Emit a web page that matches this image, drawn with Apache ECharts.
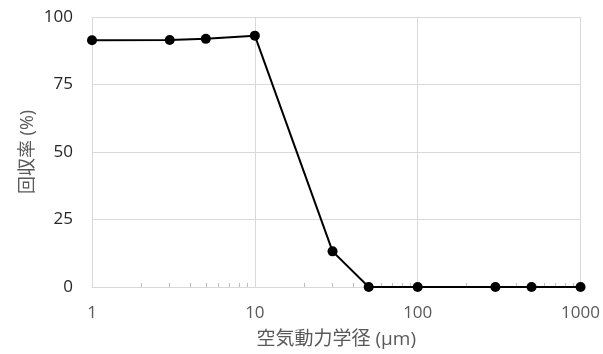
<!DOCTYPE html>
<html><head><meta charset="utf-8">
<script src="https://cdn.jsdelivr.net/npm/echarts@6/dist/echarts.min.js"></script>
<style>html,body{margin:0;padding:0;background:#fff}#c{width:603px;height:354px}</style>
</head><body><div id="c"></div>
<script>
const diameters = [1, 3, 5, 10, 30, 50, 100, 300, 500, 1000];
const recovery = [91.4, 91.5, 91.9, 93.1, 13.2, 0, 0, 0, 0, 0];
const xTicks = [1, 10, 100, 1000];
const xMinorTicks = [2,3,4,5,6,7,8,9,20,30,40,50,60,70,80,90,200,300,400,500,600,700,800,900];
const yTicks = [0, 25, 50, 75, 100];
const xTitle = '空気動力学径 (µm)';
const yTitle = '回収率 (%)';

const font = '"Open Sans", "Noto Sans CJK JP", sans-serif';
const chart = echarts.init(document.getElementById('c'));
chart.setOption({
  animation: false,
  grid: {left: 92, right: 20, top: 17, bottom: 65.5},
  xAxis: [{
    type: 'log', logBase: 10, min: 1, max: 1000,
    name: xTitle, nameLocation: 'middle', nameGap: 43, nameMoveOverlap: false,
    nameTextStyle: {fontFamily: font, fontSize: 19, color: '#595959'},
    axisLine: {show: true, lineStyle: {color: '#d9d9d9', width: 1}},
    axisTick: {show: false},
    axisLabel: {fontFamily: font, fontSize: 17, color: '#595959', margin: 18,
      customValues: xTicks, formatter: v => String(v)},
    splitLine: {show: true, lineStyle: {color: '#d9d9d9', width: 1}}
  }, {
    type: 'log', logBase: 10, min: 1, max: 1000, position: 'bottom',
    axisLine: {show: false},
    axisTick: {show: true, inside: true, length: 4, lineStyle: {color: '#bfbfbf'}, customValues: xMinorTicks},
    axisLabel: {show: false},
    splitLine: {show: false}
  }],
  yAxis: {
    type: 'value', min: 0, max: 100, interval: 25,
    name: yTitle, nameLocation: 'middle', nameGap: 55, nameMoveOverlap: false,
    nameTextStyle: {fontFamily: font, fontSize: 18, color: '#595959'},
    axisLine: {show: false}, axisTick: {show: false},
    axisLabel: {fontFamily: font, fontSize: 17, color: '#262626', margin: 19, customValues: yTicks},
    splitLine: {show: true, lineStyle: {color: '#d9d9d9', width: 1}}
  },
  series: [{
    type: 'line', xAxisIndex: 0,
    data: diameters.map((d, i) => [d, recovery[i]]),
    symbol: 'circle', symbolSize: 10,
    lineStyle: {color: '#000', width: 2},
    itemStyle: {color: '#000'}
  }]
});
</script></body></html>
